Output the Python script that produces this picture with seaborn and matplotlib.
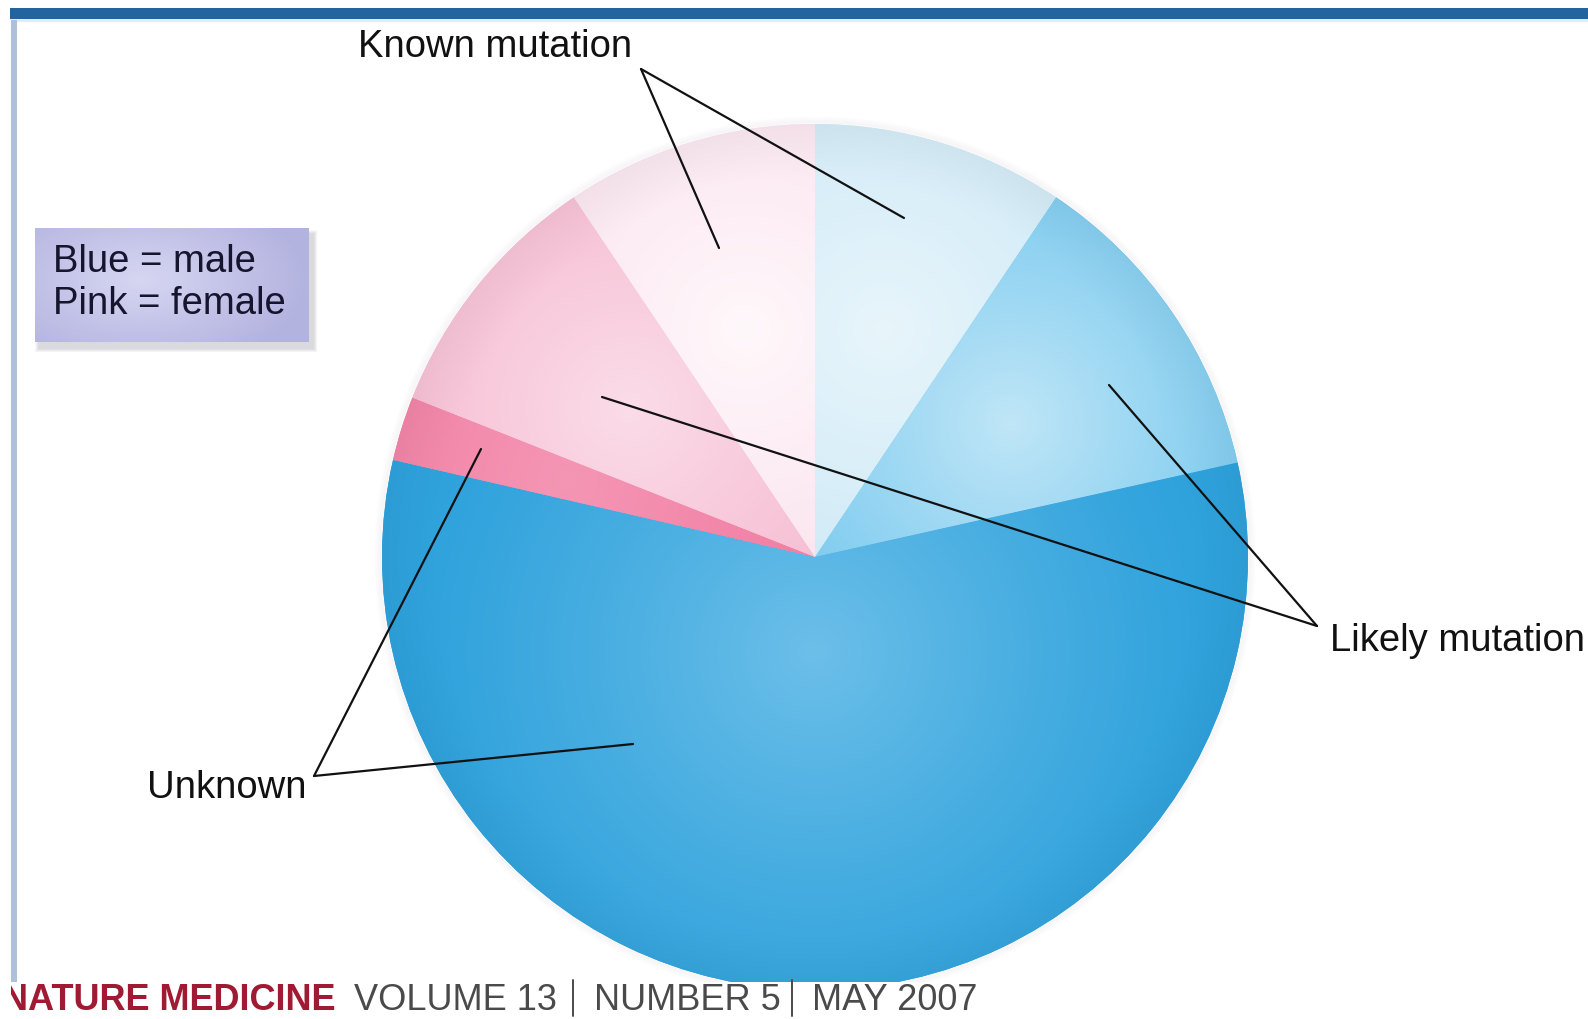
import numpy as np
import matplotlib
matplotlib.use("Agg")
import matplotlib.pyplot as plt
import seaborn as sns
from matplotlib.patches import Rectangle, Circle
from matplotlib.colors import to_rgb

# ---- data -------------------------------------------------------------
categories = ["Known mutation (male)", "Likely mutation (male)", "Unknown (male)",
              "Unknown (female)", "Likely mutation (female)", "Known mutation (female)"]
shares = [9.4, 12.1, 57.1, 2.4, 9.6, 9.4]
legend_lines = ["Blue = male", "Pink = female"]
callout_labels = ["Known mutation", "Likely mutation", "Unknown"]
footer_journal = "NATURE MEDICINE"
footer_issue = ["VOLUME 13", "NUMBER 5", "MAY 2007"]

# ---- styling ----------------------------------------------------------
rim_colors = ["#c6e6f5", "#5fbfec", "#2fa2dc", "#ef749c", "#f4b0c8", "#f9dce9"]
glow_colors = ["#e8f5fb", "#c0e6f7", "#6cbfe9", "#f596b5", "#fbdce8", "#fff8fb"]
glow_offset = [0.55, 0.55, 0.22, 0.6, 0.55, 0.55]

sns.set_theme(style="white")
plt.rcParams["font.family"] = ["Liberation Sans", "DejaVu Sans"]

W, H = 1588, 1019
fig = plt.figure(figsize=(W / 100, H / 100), dpi=100)
ax = fig.add_axes([0, 0, 1, 1])


def Y(y):
    return H - y


cx, cy, R = 815, Y(557), 433

# soft halo round the pie
for k in range(1, 8):
    ax.add_patch(Circle((cx, cy), R + k, facecolor="none", edgecolor="#d9cfd9",
                        lw=1.5, alpha=0.10 * (8 - k) / 7, zorder=1))

wedges, _ = ax.pie(shares, colors=rim_colors, startangle=90, counterclock=False,
                   center=(cx, cy), radius=R, wedgeprops=dict(linewidth=0),
                   normalize=True)
for w in wedges:
    w.set_zorder(2)

# radial shading inside each slice
xs = np.linspace(cx - R, cx + R, 500)
ys = np.linspace(cy - R, cy + R, 500)
gx, gy = np.meshgrid(xs, ys)
for w, rim, glow, off in zip(wedges, rim_colors, glow_colors, glow_offset):
    mid = np.deg2rad((w.theta1 + w.theta2) / 2)
    hx, hy = cx + off * R * np.cos(mid), cy + off * R * np.sin(mid)
    d = np.hypot(gx - hx, gy - hy) / (0.95 * R)
    t = np.clip(1 - d, 0, 1) ** 1.2
    rim_d = np.hypot(gx - cx, gy - cy) / R
    dark = np.clip((rim_d - 0.88) / 0.12, 0, 1) * 0.035
    c0, c1 = np.array(to_rgb(rim)), np.array(to_rgb(glow))
    img = c0[None, None, :] * (1 - t[..., None]) + c1[None, None, :] * t[..., None]
    img = img * (1 - dark[..., None])
    im = ax.imshow(np.clip(img, 0, 1), extent=(cx - R, cx + R, cy - R, cy + R),
                   origin="lower", zorder=3, interpolation="bilinear")
    im.set_clip_path(w)

# the pie sits on the footer line
ax.add_patch(Rectangle((cx - R - 20, Y(H)), 2 * R + 40, Y(982) - Y(H),
                       facecolor="white", edgecolor="none", zorder=4))

# frame strips
ax.add_patch(Rectangle((10, Y(20)), W - 10, 12, facecolor="#23649f",
                       edgecolor="none", zorder=6))
ax.add_patch(Rectangle((10, Y(22)), W - 10, 3, facecolor="#d8f1fb",
                       edgecolor="none", zorder=6))
ax.add_patch(Rectangle((0, Y(1019)), 11, 1019 - 20, facecolor="white",
                       edgecolor="none", zorder=10))
ax.add_patch(Rectangle((11, Y(982)), 6, 982 - 20, facecolor="#aec0da",
                       edgecolor="none", zorder=10))

# legend box with shadow
bx0, by0, bx1, by1 = 35, 228, 309, 342
for k in range(8, 0, -1):
    ax.add_patch(Rectangle((bx0 + 4 - k / 2, Y(by1 + 6 + k / 2)), bx1 - bx0 + k,
                           by1 - by0 + k, facecolor="#9a9aa8", edgecolor="none",
                           alpha=0.05, zorder=6))
box = Rectangle((bx0, Y(by1)), bx1 - bx0, by1 - by0, facecolor="#b7b7e2",
                edgecolor="none", zorder=7)
ax.add_patch(box)
bxs = np.linspace(bx0, bx1, 200)
bys = np.linspace(Y(by1), Y(by0), 100)
bgx, bgy = np.meshgrid(bxs, bys)
bd = np.hypot((bgx - 140) / 170, (bgy - Y(280)) / 90)
bt = np.clip(1 - bd, 0, 1)[..., None]
bimg = np.array(to_rgb("#b3b3e0")) * (1 - bt) + np.array(to_rgb("#d6d6f2")) * bt
bim = ax.imshow(bimg, extent=(bx0, bx1, Y(by1), Y(by0)), origin="lower",
                zorder=8, interpolation="bilinear")
bim.set_clip_path(box)
ax.text(53, Y(262), legend_lines[0], fontsize=27.5, color="#15152e",
        va="center", ha="left", zorder=9)
ax.text(53, Y(304), legend_lines[1], fontsize=27.5, color="#15152e",
        va="center", ha="left", zorder=9)

# callouts and leader lines
line_kw = dict(color="#111111", lw=1.6, zorder=9, solid_capstyle="round")
ax.text(358, Y(47), callout_labels[0], fontsize=27.5, color="#111111",
        va="center", ha="left", zorder=9)
for px, py in [(719, 248), (904, 218)]:
    ax.plot([641, px], [Y(69), Y(py)], **line_kw)

ax.text(1330, Y(641), callout_labels[1], fontsize=27.5, color="#111111",
        va="center", ha="left", zorder=9)
for px, py in [(1109, 385), (602, 397)]:
    ax.plot([1317, px], [Y(626), Y(py)], **line_kw)

ax.text(147, Y(788), callout_labels[2], fontsize=27.5, color="#111111",
        va="center", ha="left", zorder=9)
for px, py in [(481, 449), (633, 744)]:
    ax.plot([314, px], [Y(776), Y(py)], **line_kw)

# footer line along the bottom edge
base = Y(1010)
ax.text(2, base, footer_journal, fontsize=26, color="#a11a33",
        fontweight="bold", va="baseline", ha="left", zorder=9)
for label, x0 in zip(footer_issue, [354, 594, 812]):
    ax.text(x0, base, label, fontsize=26, color="#4a4a4a",
            va="baseline", ha="left", zorder=9)
for xs_ in [573, 792]:
    ax.plot([xs_, xs_], [Y(980), Y(1016)], color="#4a4a4a", lw=1.4, zorder=9)

ax.set_xlim(0, W)
ax.set_ylim(0, H)
ax.set_aspect("equal")
ax.axis("off")
fig.savefig("out.png", dpi=100, facecolor="white")
